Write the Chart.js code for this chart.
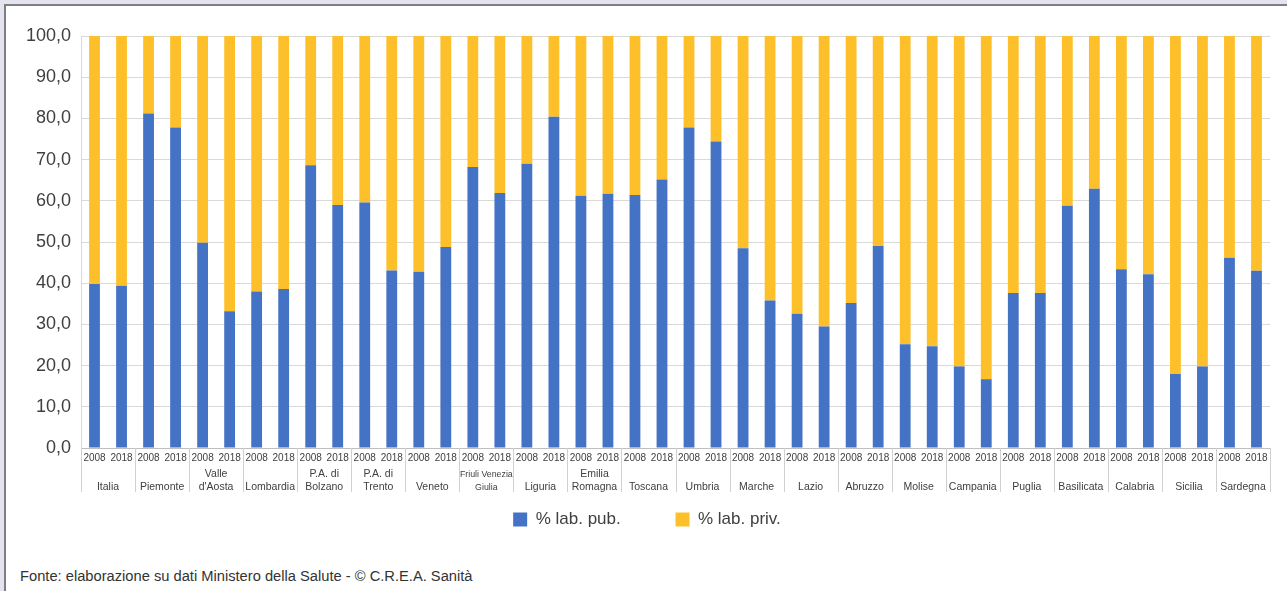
<!DOCTYPE html>
<html>
<head>
<meta charset="utf-8">
<script src="https://cdn.jsdelivr.net/npm/chart.js@4"></script>
<style>
  body { margin: 0; background: #e4e4f0; overflow: hidden; width: 1287px; height: 591px; }
  #panel { position: absolute; left: 4px; top: 4px; right: 0; bottom: 0; background: #fff;
           border-top: 2px solid #7f7f7f; border-left: 2px solid #7f7f7f; }
  #chart { position: absolute; left: 0; top: 0; }
  #source { position: absolute; left: 20px; top: 568px; color: #333;
            font: 14.7px "Liberation Sans", Arial, sans-serif; }
</style>
</head>
<body>
<div id="panel"></div>
<canvas id="chart" width="1287" height="538"></canvas>
<div id="source">Fonte: elaborazione su dati Ministero della Salute - © C.R.E.A. Sanità</div>
<script>
var FONT = '"Liberation Sans", Arial, sans-serif';

var regions = [
  ['', 'Italia'], ['', 'Piemonte'], ['Valle', "d'Aosta"], ['', 'Lombardia'],
  ['P.A. di', 'Bolzano'], ['P.A. di', 'Trento'], ['', 'Veneto'], ['Friuli Venezia', 'Giulia'],
  ['', 'Liguria'], ['Emilia', 'Romagna'], ['', 'Toscana'], ['', 'Umbria'],
  ['', 'Marche'], ['', 'Lazio'], ['', 'Abruzzo'], ['', 'Molise'],
  ['', 'Campania'], ['', 'Puglia'], ['', 'Basilicata'], ['', 'Calabria'],
  ['', 'Sicilia'], ['', 'Sardegna']
];
var years = ['2008', '2018'];

// % laboratori pubblici / privati, per regione
var pub2008  = [39.8, 81.2, 49.8, 38.0, 68.6, 59.6, 42.8, 68.2, 69.0, 61.2, 61.4, 77.8, 48.5, 32.6, 35.2, 25.2, 19.8, 37.6, 58.8, 43.4, 18.0, 46.2];
var pub2018  = [39.4, 77.8, 33.2, 38.6, 59.0, 43.1, 48.8, 61.9, 80.4, 61.7, 65.2, 74.4, 35.8, 29.5, 49.0, 24.7, 16.7, 37.6, 62.9, 42.2, 19.8, 43.0];
var priv2008 = [60.2, 18.8, 50.2, 62.0, 31.4, 40.4, 57.2, 31.8, 31.0, 38.8, 38.6, 22.2, 51.5, 67.4, 64.8, 74.8, 80.2, 62.4, 41.2, 56.6, 82.0, 53.8];
var priv2018 = [60.6, 22.2, 66.8, 61.4, 41.0, 56.9, 51.2, 38.1, 19.6, 38.3, 34.8, 25.6, 64.2, 70.5, 51.0, 75.3, 83.3, 62.4, 37.1, 57.8, 80.2, 57.0];

// build interleaved bars (2008, 2018 for each region)
var yearLabels = [], pubData = [], privData = [];
for (var i = 0; i < regions.length; i++) {
  yearLabels.push(years[0], years[1]);
  pubData.push(pub2008[i], pub2018[i]);
  privData.push(priv2008[i], priv2018[i]);
}

// vertical separators between regions, below the x axis
var groupSeparators = {
  id: 'groupSeparators',
  afterDraw: function(chart) {
    var x = chart.scales.x, x2 = chart.scales.x2, ctx = chart.ctx;
    var n = x2.ticks.length;
    ctx.save();
    ctx.strokeStyle = '#d0d0d0';
    ctx.lineWidth = 1;
    for (var g = 0; g <= n; g++) {
      var px;
      if (g === 0) px = x2.left;
      else if (g === n) px = x2.right;
      else px = (x2.getPixelForTick(g - 1) + x2.getPixelForTick(g)) / 2;
      px = Math.round(px) + 0.5;
      ctx.beginPath();
      ctx.moveTo(px, x.top);
      ctx.lineTo(px, x.top + 44);
      ctx.stroke();
    }
    ctx.restore();
  }
};

var chart = new Chart(document.getElementById('chart'), {
  type: 'bar',
  data: {
    labels: yearLabels,
    datasets: [
      { label: '% lab. pub.', data: pubData, backgroundColor: '#4472c4', barPercentage: 0.4, categoryPercentage: 1 },
      { label: '% lab. priv.', data: privData, backgroundColor: '#fec02a', barPercentage: 0.4, categoryPercentage: 1 }
    ]
  },
  options: {
    responsive: false,
    devicePixelRatio: 1,
    animation: false,
    layout: { padding: { left: 24, right: 17, top: 36, bottom: 0 } },
    plugins: {
      tooltip: { enabled: false },
      legend: {
        position: 'bottom',
        labels: {
          boxWidth: 14, boxHeight: 14, padding: 17, color: '#404040',
          font: { family: FONT, size: 17 },
          generateLabels: function(chart) {
            var items = Chart.defaults.plugins.legend.labels.generateLabels(chart);
            items[0].text += '        '; // wider gap between the two entries
            return items;
          }
        }
      }
    },
    scales: {
      x: {
        stacked: true,
        offset: true,
        grid: { display: false, drawTicks: false, tickLength: 0 },
        border: { display: true, color: '#bfbfbf' },
        ticks: { color: '#404040', padding: 4, maxRotation: 0, autoSkip: false, font: { family: FONT, size: 10 } }
      },
      x2: {
        type: 'category',
        position: 'bottom',
        labels: regions,
        offset: true,
        grid: { display: false, drawTicks: false, tickLength: 0 },
        border: { display: false },
        ticks: {
          color: '#404040', padding: 0, maxRotation: 0, autoSkip: false,
          font: function(ctx) {
            return { family: FONT, size: ctx.index === 7 ? 8.8 : 10.5, lineHeight: '13px' };
          }
        }
      },
      y: {
        stacked: true,
        min: 0,
        max: 100,
        afterFit: function(scale) { scale.width = 57; },
        grid: { color: '#d9d9d9', drawTicks: false },
        border: { display: true, color: '#d9d9d9' },
        ticks: {
          stepSize: 10,
          padding: 10,
          color: '#404040',
          font: { family: FONT, size: 18 },
          callback: function(v) { return v.toFixed(1).replace('.', ','); }
        }
      }
    }
  },
  plugins: [groupSeparators]
});
</script>
</body>
</html>
